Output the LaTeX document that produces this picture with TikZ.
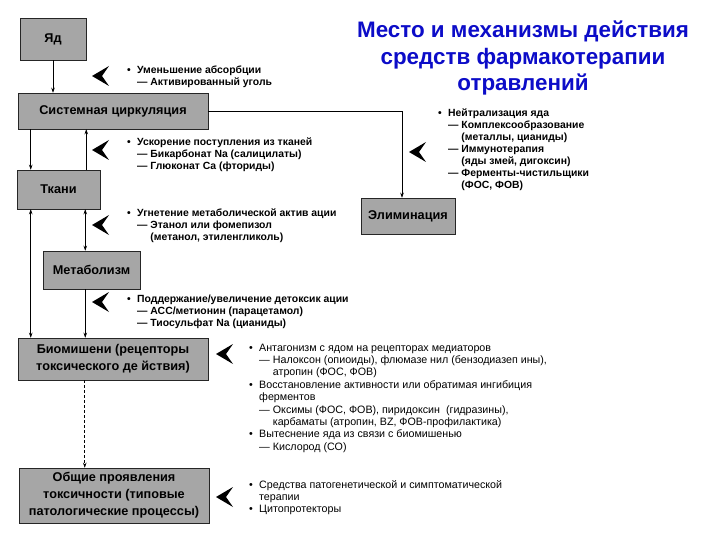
\documentclass[tikz,border=0pt]{standalone}
\usepackage{fontspec}
\setmainfont{Liberation Sans}
\usepackage{xcolor}
\usetikzlibrary{arrows.meta, positioning}

\definecolor{titleblue}{RGB}{12,12,200}
\newcommand{\bul}{\makebox[10pt][l]{•}}
\newcommand{\ind}{\hspace*{10pt}}
\newcommand{\indd}{\hspace*{10pt}\phantom{— }}

\tikzset{
  block/.style={draw=black!85, fill=black!35, line width=0.5pt, align=center,
    inner sep=0pt, font=\bfseries\fontsize{12.7}{17}\selectfont},
  note/.style={anchor=base west, inner sep=0pt, font=\bfseries\fontsize{10.4}{12}\selectfont},
  thinnote/.style={note, font=\fontsize{10.7}{12.4}\selectfont},
  arr/.style={-{Stealth[length=5pt,width=3.5pt]}, line width=0.6pt},
  darr/.style={{Stealth[length=5pt,width=3.5pt]}-{Stealth[length=5pt,width=3.5pt]}, line width=0.6pt},
  chev/.pic={\fill (-9,0) -- (8,-10) -- (1,0) -- (8,10) -- cycle;}
}

\begin{document}
\begin{tikzpicture}[x=1pt, y=-1pt]
  \useasboundingbox (0,0) rectangle (720,540);

  % Title
  \node[anchor=base, inner sep=0pt, text=titleblue, font=\bfseries\fontsize{22.4}{26.5}\selectfont] (title) at (523,38)
    {\begin{tabular}[t]{@{}c@{}}Место и механизмы действия\\ средств фармакотерапии\\ отравлений\end{tabular}};

  % Blocks
  \node[block, minimum width=66, minimum height=42] (yad) at (53,39) {Яд};
  \node[block, minimum width=190, minimum height=36] (sist) at (113,111) {Системная циркуляция};
  \node[block, minimum width=83, minimum height=39] (tkani) at (58.5,189.5) {Ткани};
  \node[block, minimum width=97, minimum height=38] (metab) at (91.5,270) {Метаболизм};
  \node[block, minimum width=190, minimum height=42] (biom) at (113,359) {Биомишени (рецепторы\\ токсического де йствия)};
  \node[block, minimum width=190, minimum height=55] (obsh) at (114,495.5) {Общие проявления\\ токсичности (типовые\\ патологические процессы)};
  \node[block, minimum width=94, minimum height=36] (elim) at (408,216) {Элиминация};

  % Connectors
  \draw[arr] (yad.south) -- (yad.south |- sist.north);
  \draw[arr] ([xshift=13pt]sist.south west) -- ([xshift=13pt]sist.south west |- tkani.north);
  \draw[arr] ([xshift=-14pt]tkani.north east) -- ([xshift=-14pt]tkani.north east |- sist.south);
  \draw[darr] ([xshift=-15pt]tkani.south east) -- ([xshift=-15pt]tkani.south east |- metab.north);
  \draw[darr] ([xshift=14pt]tkani.south west) -- ([xshift=14pt]tkani.south west |- biom.north);
  \draw[arr] ([xshift=-15pt]tkani.south east |- metab.south) -- ([xshift=-15pt]tkani.south east |- biom.north);
  \draw[arr, dash pattern=on 3pt off 2pt] ([xshift=67pt]biom.south west) -- ([xshift=67pt]biom.south west |- obsh.north);
  \draw[arr] (sist.east) -| ([xshift=-6pt]elim.north);

  % Chevrons
  \foreach \p in {(101,76), (101,150), (101,225), (101,302), (225,354), (225,497), (418,152)}
    \pic at \p {chev};

  % Notes
  \node[note] (absorb) at (127,74) {\begin{tabular}[t]{@{}l@{}}
    \bul Уменьшение абсорбции\\
    \ind — Активированный уголь\end{tabular}};
  \node[note] (uskor) at (127,146) {\begin{tabular}[t]{@{}l@{}}
    \bul Ускорение поступления из тканей\\
    \ind — Бикарбонат Na (салицилаты)\\
    \ind — Глюконат Са (фториды)\end{tabular}};
  \node[note] (ugnet) at (127,217) {\begin{tabular}[t]{@{}l@{}}
    \bul Угнетение метаболической актив ации\\
    \ind — Этанол или фомепизол\\
    \indd (метанол, этиленгликоль)\end{tabular}};
  \node[note] (podd) at (127,302) {\begin{tabular}[t]{@{}l@{}}
    \bul Поддержание/увеличение детоксик ации\\
    \ind — АСС/метионин (парацетамол)\\
    \ind — Тиосульфат Na (цианиды)\end{tabular}};
  \node[note] (neitr) at (438,117) {\begin{tabular}[t]{@{}l@{}}
    \bul Нейтрализация яда\\
    \ind — Комплексообразование\\
    \indd (металлы, цианиды)\\
    \ind — Иммунотерапия\\
    \indd (яды змей, дигоксин)\\
    \ind — Ферменты-чистильщики\\
    \indd (ФОС, ФОВ)\end{tabular}};
  \node[thinnote] (antag) at (249,351) {\begin{tabular}[t]{@{}l@{}}
    \bul Антагонизм с ядом на рецепторах медиаторов\\
    \ind — Налоксон (опиоиды), флюмазе нил (бензодиазеп ины),\\
    \indd атропин (ФОС, ФОВ)\\
    \bul Восстановление активности или обратимая ингибиция\\
    \ind ферментов\\
    \ind — Оксимы (ФОС, ФОВ), пиридоксин\ \ (гидразины),\\
    \indd карбаматы (атропин, BZ, ФОВ-профилактика)\\
    \bul Вытеснение яда из связи с биомишенью\\
    \ind — Кислород (СО)\end{tabular}};
  \node[thinnote] (sredst) at (249,488) {\begin{tabular}[t]{@{}l@{}}
    \bul Средства патогенетической и симптоматической\\
    \ind терапии\\
    \bul Цитопротекторы\end{tabular}};
\end{tikzpicture}
\end{document}
